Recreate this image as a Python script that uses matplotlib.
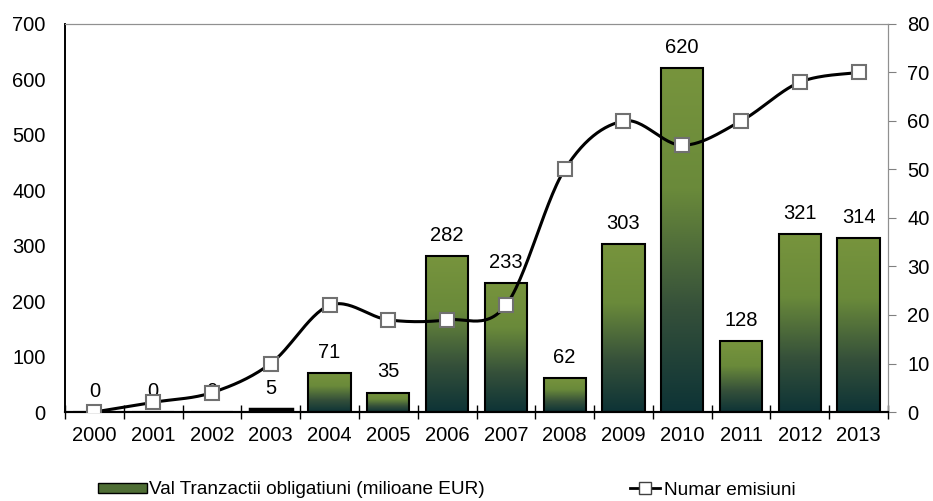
import numpy as np
import matplotlib
matplotlib.use("Agg")
import matplotlib.pyplot as plt
from matplotlib.colors import LinearSegmentedColormap
from matplotlib.patches import Rectangle
from matplotlib.lines import Line2D

plt.rcParams['font.family'] = ['Liberation Sans', 'DejaVu Sans']

years = ['2000', '2001', '2002', '2003', '2004', '2005', '2006',
         '2007', '2008', '2009', '2010', '2011', '2012', '2013']
val_tranzactii = [0, 0, 0, 5, 71, 35, 282, 233, 62, 303, 620, 128, 321, 314]
numar_emisiuni = [0, 2, 4, 10, 22, 19, 19, 22, 50, 60, 55, 60, 68, 70]

bar_label = 'Val Tranzactii obligatiuni (milioane EUR)'
line_label = 'Numar emisiuni'


def smooth(x, y, n=30):
    # Catmull-Rom style smoothing, similar to spreadsheet "smoothed line"
    x = np.asarray(x, float)
    y = np.asarray(y, float)
    px = np.concatenate([[x[0]], x, [x[-1]]])
    py = np.concatenate([[y[0]], y, [y[-1]]])
    xs, ys = [], []
    t = np.linspace(0, 1, n)
    for i in range(1, len(px) - 2):
        p0, p1, p2, p3 = [np.array([px[j], py[j]]) for j in (i - 1, i, i + 1, i + 2)]
        c1 = p1 + (p2 - p0) / 6
        c2 = p2 - (p3 - p1) / 6
        b = ((1 - t)[:, None] ** 3 * p1 + 3 * ((1 - t) ** 2 * t)[:, None] * c1
             + 3 * ((1 - t) * t ** 2)[:, None] * c2 + (t ** 3)[:, None] * p2)
        xs.extend(b[:, 0])
        ys.extend(b[:, 1])
    return np.array(xs), np.array(ys)


fig = plt.figure(figsize=(9.33, 5.01), dpi=100)
ax = fig.add_axes([65 / 933, 1 - 412 / 501, 823 / 933, 388 / 501])
ax2 = ax.twinx()

x = np.arange(len(years))
width = 0.72
fs = 14.5

cmap = LinearSegmentedColormap.from_list(
    'bar', [(0.0, '#0d3336'), (0.3, '#35503a'), (0.65, '#6a8a3a'), (1.0, '#77943d')])
grad = np.linspace(0, 1, 256).reshape(-1, 1)

bars = ax.bar(x, val_tranzactii, width=width, facecolor='none',
              edgecolor='black', linewidth=1.5, zorder=3)
for b, v in zip(bars, val_tranzactii):
    if v <= 0:
        continue
    x0, w, h = b.get_x(), b.get_width(), b.get_height()
    im = ax.imshow(grad, cmap=cmap, aspect='auto', origin='lower',
                   extent=[x0, x0 + w, 0, h], zorder=2)
    im.set_clip_path(b)
    if v < 10:
        b.set_facecolor('black')
        b.set_linewidth(2.5)

for xi, v in zip(x, val_tranzactii):
    ax.annotate(str(v), (xi, v), xytext=(0, 8), textcoords='offset points',
                ha='center', va='bottom', fontsize=fs)

ax.set_xlim(-0.5, len(years) - 0.5)
ax.set_ylim(0, 700)
ax.set_yticks(range(0, 701, 100))
ax.set_xticks(x)
ax.set_xticklabels(years)
ax.set_xticks(np.arange(-0.5, len(years), 1.0), minor=True)
ax.tick_params(axis='x', which='major', length=0, labelsize=fs, pad=10)
ax.tick_params(axis='x', which='minor', length=10, direction='inout', width=1)
ax.tick_params(axis='y', length=0, labelsize=fs, pad=14)

sx, sy = smooth(x, numar_emisiuni)
ax2.plot(sx, sy, color='black', linewidth=2.2, zorder=4)
ax2.plot(x, numar_emisiuni, linestyle='none', marker='s', markersize=10,
         markerfacecolor='white', markeredgecolor='#707070',
         markeredgewidth=1.5, zorder=5)
ax2.set_ylim(0, 80)
ax2.set_yticks(range(0, 81, 10))
ax2.tick_params(axis='y', length=6, direction='out', color='#808080', labelsize=fs, pad=8)

ax.set_zorder(1)
ax2.set_zorder(2)
ax2.patch.set_visible(False)

for a in (ax, ax2):
    a.spines['top'].set_color('#909090')
    a.spines['right'].set_color('#909090')
    a.spines['left'].set_color('black')
    a.spines['bottom'].set_color('black')
    a.spines['bottom'].set_linewidth(1.5)
    a.spines['left'].set_linewidth(1.2)

bar_handle = Rectangle((0, 0), 1, 1, facecolor='#4f6e35', edgecolor='black', linewidth=1)
line_handle = Line2D([0], [0], color='black', linewidth=2, marker='s', markersize=8,
                     markerfacecolor='white', markeredgecolor='#404040')
leg1 = fig.legend([bar_handle], [bar_label], loc='center left',
                  bbox_to_anchor=(98 / 933, 1 - 490 / 501), frameon=False,
                  fontsize=13.7, handlelength=2.6, handleheight=0.45,
                  handletextpad=0.1, borderpad=0, borderaxespad=0)
fig.legend([line_handle], [line_label], loc='center left',
           bbox_to_anchor=(630 / 933, 1 - 490 / 501), frameon=False,
           fontsize=13.7, handlelength=1.6, handletextpad=0.2,
           borderpad=0, borderaxespad=0)

fig.savefig('out.png', dpi=100)
